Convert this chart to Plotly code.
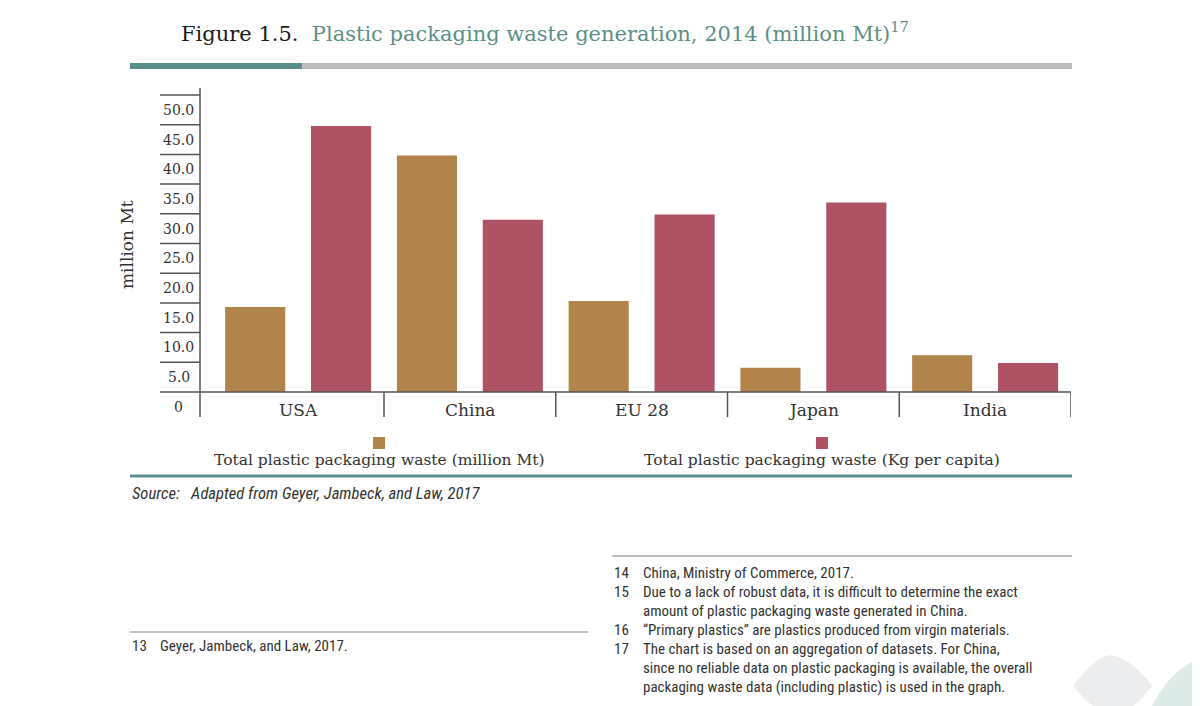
import plotly.graph_objects as go

# ---------------- data ----------------
categories = ["USA", "China", "EU 28", "Japan", "India"]
waste_million_mt = [14.3, 39.8, 15.3, 4.1, 6.2]
waste_kg_per_capita = [44.8, 29.0, 29.9, 31.9, 4.9]
series_names = ["Total plastic packaging waste (million Mt)",
                "Total plastic packaging waste (Kg per capita)"]
y_tick_values = [0, 5, 10, 15, 20, 25, 30, 35, 40, 45, 50]
y_tick_labels = ["0", "5.0", "10.0", "15.0", "20.0", "25.0", "30.0", "35.0", "40.0", "45.0", "50.0"]
footnotes_right = [
    ("14", ["China, Ministry of Commerce, 2017."]),
    ("15", ["Due to a lack of robust data, it is difficult to determine the exact",
            "amount of plastic packaging waste generated in China."]),
    ("16", ["\u201cPrimary plastics\u201d are plastics produced from virgin materials."]),
    ("17", ["The chart is based on an aggregation of datasets. For China,",
            "since no reliable data on plastic packaging is available, the overall",
            "packaging waste data (including plastic) is used in the graph."]),
]
footnote_left = ("13", "Geyer, Jambeck, and Law, 2017.")
source_text = "Source:&nbsp;&nbsp; Adapted from Geyer, Jambeck, and Law, 2017"

# ---------------- style ----------------
W, H = 1200, 706
OFF = 8  # page body margin
C_MUSTARD = "#B0844A"
C_RED = "#AE5264"
C_TEAL = "#5B8F8A"
C_GRAY = "#BDBDBD"
C_AXIS = "#555555"
C_TEXT = "#333333"
SERIF = "DejaVu Serif, Liberation Serif, serif"
NARROW = "Liberation Sans Narrow, Roboto Condensed, Arial Narrow, Roboto, sans-serif"


def px(x):
    return (x - OFF) / W


def py(y):
    return 1 - (y - OFF) / H


# y scale: value 0 at 392px, value 50 at 95px
unit = (392 - 95) / 50.0
y_bottom_px, y_top_px = 417, 88
y_range = [-(y_bottom_px - 392) / unit, 50 + (95 - y_top_px) / unit]
x_left_px, x_right_px = 200, 1071
cat_w = (1071 - 384) / 4.0
x_range = [-0.5 - (384 - cat_w - x_left_px) / cat_w, 4.5]

fig = go.Figure()
fig.add_trace(go.Bar(x=categories, y=waste_million_mt, name=series_names[0],
                     marker=dict(color=C_MUSTARD, line=dict(width=0)), showlegend=False))
fig.add_trace(go.Bar(x=categories, y=waste_kg_per_capita, name=series_names[1],
                     marker=dict(color=C_RED, line=dict(width=0)), showlegend=False))

shapes = []
annotations = []

# vertical axis line
shapes.append(dict(type="line", xref="paper", yref="paper", x0=px(x_left_px), x1=px(x_left_px),
                   y0=py(y_bottom_px), y1=py(y_top_px), line=dict(color=C_AXIS, width=1.5)))
# horizontal tick lines
for v in y_tick_values:
    x1 = px(x_right_px) if v == 0 else px(x_left_px)
    shapes.append(dict(type="line", xref="paper", yref="y", x0=px(160), x1=x1, y0=v, y1=v,
                       line=dict(color=C_AXIS, width=1.5)))
# category separators
for i in range(len(categories)):
    shapes.append(dict(type="line", xref="x", yref="y", x0=i + 0.5, x1=i + 0.5,
                       y0=0, y1=y_range[0], line=dict(color=C_AXIS, width=1.5)))

# tick labels (placed in the bands between tick lines)
for v, lab in zip(y_tick_values, y_tick_labels):
    annotations.append(dict(xref="paper", yref="y", x=px(179), y=v - 2.5, text=lab,
                            showarrow=False, xanchor="center", yanchor="middle",
                            font=dict(family=SERIF, size=14, color=C_TEXT)))
# category labels
for i, c in enumerate(categories):
    annotations.append(dict(xref="x", yref="y", x=i, y=-3.0, text=c, showarrow=False,
                            xanchor="center", yanchor="middle",
                            font=dict(family=SERIF, size=17, color=C_TEXT)))
# y-axis title
annotations.append(dict(xref="paper", yref="paper", x=px(127), y=py(245), text="million Mt",
                        textangle=-90, showarrow=False, xanchor="center", yanchor="middle",
                        font=dict(family=SERIF, size=17, color=C_TEXT)))

# title
annotations.append(dict(xref="paper", yref="paper", x=px(179), y=py(32), xanchor="left", yanchor="middle",
                        showarrow=False,
                        text="<span style='color:#1a1a1a'>Figure 1.5.</span>&nbsp; Plastic packaging waste generation, 2014 (million Mt)<sup>17</sup>",
                        font=dict(family=SERIF, size=21, color=C_TEAL)))
# title rule
shapes.append(dict(type="line", xref="paper", yref="paper", x0=px(130), x1=px(1072), y0=py(66), y1=py(66),
                   line=dict(color=C_GRAY, width=6)))
shapes.append(dict(type="line", xref="paper", yref="paper", x0=px(130), x1=px(302), y0=py(66), y1=py(66),
                   line=dict(color=C_TEAL, width=6)))

# legend
for cx, col, name in [(379, C_MUSTARD, series_names[0]), (822, C_RED, series_names[1])]:
    shapes.append(dict(type="rect", xref="paper", yref="paper", x0=px(cx - 6), x1=px(cx + 6),
                       y0=py(449), y1=py(437), fillcolor=col, line=dict(width=0)))
    annotations.append(dict(xref="paper", yref="paper", x=px(cx), y=py(460), text=name, showarrow=False,
                            xanchor="center", yanchor="middle",
                            font=dict(family=SERIF, size=15.5, color=C_TEXT)))
# bottom teal rule
shapes.append(dict(type="line", xref="paper", yref="paper", x0=px(130), x1=px(1072), y0=py(476), y1=py(476),
                   line=dict(color=C_TEAL, width=3)))
# source
annotations.append(dict(xref="paper", yref="paper", x=px(130), y=py(493), text="<i>" + source_text + "</i>",
                        showarrow=False, xanchor="left", yanchor="middle",
                        font=dict(family=NARROW, size=16.6, color=C_TEXT)))

# footnotes left
shapes.append(dict(type="line", xref="paper", yref="paper", x0=px(130), x1=px(588), y0=py(632), y1=py(632),
                   line=dict(color="#AAAAAA", width=1.5)))
annotations.append(dict(xref="paper", yref="paper", x=px(130), y=py(646), text=footnote_left[0],
                        showarrow=False, xanchor="left", yanchor="middle",
                        font=dict(family=NARROW, size=15, color=C_TEXT)))
annotations.append(dict(xref="paper", yref="paper", x=px(158), y=py(646), text=footnote_left[1],
                        showarrow=False, xanchor="left", yanchor="middle",
                        font=dict(family=NARROW, size=15, color=C_TEXT)))
# footnotes right
shapes.append(dict(type="line", xref="paper", yref="paper", x0=px(612), x1=px(1072), y0=py(556), y1=py(556),
                   line=dict(color="#AAAAAA", width=1.5)))
line_y = 573
step = 19
for num, lines in footnotes_right:
    annotations.append(dict(xref="paper", yref="paper", x=px(612), y=py(line_y), text=num,
                            showarrow=False, xanchor="left", yanchor="middle",
                            font=dict(family=NARROW, size=15, color=C_TEXT)))
    for ln in lines:
        annotations.append(dict(xref="paper", yref="paper", x=px(641), y=py(line_y), text=ln,
                                showarrow=False, xanchor="left", yanchor="middle",
                                font=dict(family=NARROW, size=15, color=C_TEXT)))
        line_y += step

# decorative watermark leaves (bottom right)
shapes.append(dict(type="path", xref="paper", yref="paper",
                   path=f"M {px(1073)} {py(686)} Q {px(1100)} {py(650)} {px(1115)} {py(656)} "
                        f"Q {px(1135)} {py(662)} {px(1152)} {py(686)} Q {px(1125)} {py(720)} {px(1110)} {py(716)} "
                        f"Q {px(1095)} {py(712)} {px(1073)} {py(686)} Z",
                   fillcolor="#ECEDEF", line=dict(width=0), layer="below"))
shapes.append(dict(type="path", xref="paper", yref="paper",
                   path=f"M {px(1152)} {py(706)} Q {px(1170)} {py(670)} {px(1200)} {py(658)} "
                        f"L {px(1200)} {py(706)} Z",
                   fillcolor="#DCEAE8", line=dict(width=0), layer="below"))

fig.update_layout(
    width=W, height=H,
    margin=dict(l=0, r=0, t=0, b=0),
    paper_bgcolor="white", plot_bgcolor="rgba(0,0,0,0)",
    barmode="group", bargap=0.0, bargroupgap=0.3,
    showlegend=False,
    xaxis=dict(domain=[px(x_left_px), px(x_right_px)], range=x_range, type="category",
               showticklabels=False, showgrid=False, zeroline=False, showline=False, ticks=""),
    yaxis=dict(domain=[py(y_bottom_px), py(y_top_px)], range=y_range,
               showticklabels=False, showgrid=False, zeroline=False, showline=False, ticks=""),
    shapes=shapes, annotations=annotations,
)

fig.write_html("out.html")
